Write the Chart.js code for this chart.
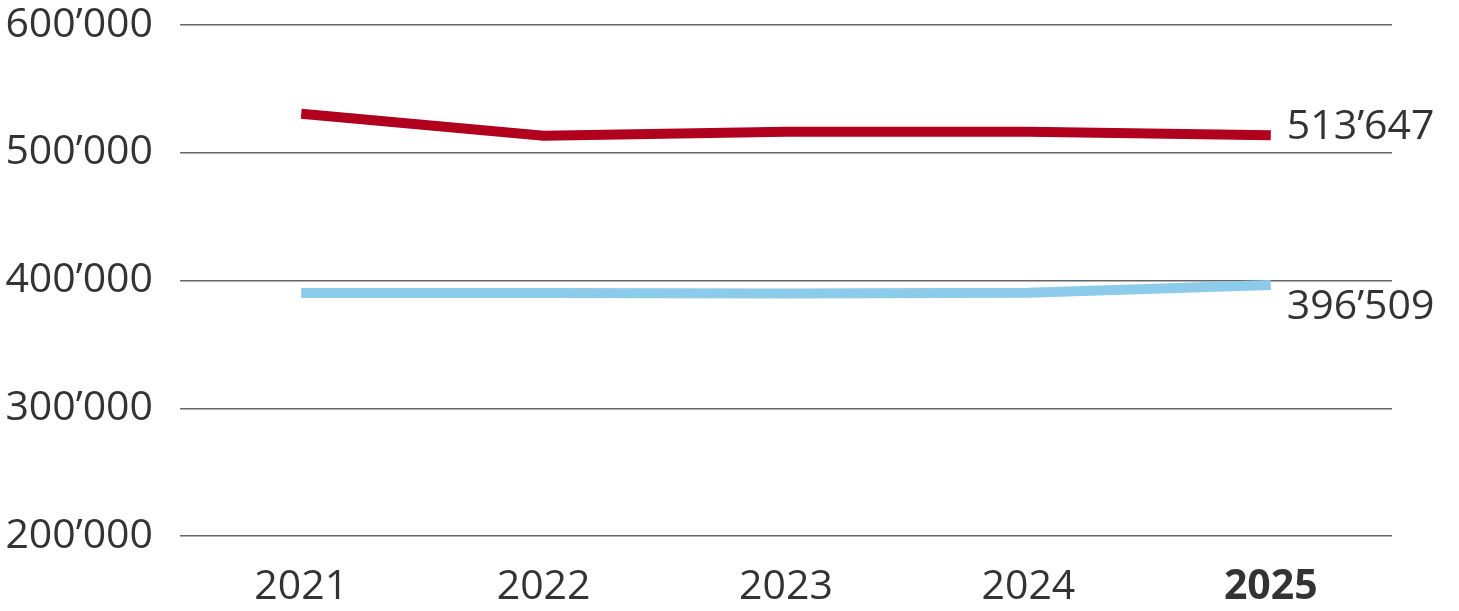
<!DOCTYPE html>
<html>
<head>
<meta charset="utf-8">
<script src="https://cdn.jsdelivr.net/npm/chart.js@4/dist/chart.umd.min.js"></script>
<style>
  html, body { margin: 0; padding: 0; background: #fff; }
  #wrap { width: 1459px; height: 611px; position: relative; }
</style>
</head>
<body>
<div id="wrap"><canvas id="lineChart"></canvas></div>
<script>
// --- data ---
const years = ['2021', '2022', '2023', '2024', '2025'];
const redSeries = [530500, 513400, 516400, 516400, 513647];
const blueSeries = [390200, 390300, 389900, 390500, 396509];
const yTicks = [200000, 300000, 400000, 500000, 600000];

const FONT = "'Open Sans', 'DejaVu Sans', sans-serif";

// 600000 -> 600’000
const formatNumber = (value) => {
    return String(Math.round(value)).replace(/\B(?=(\d{3})+(?!\d))/g, '\u2019');
};

// label at the end of each line
const endLabels = {
    id: 'endLabels',
    afterDatasetsDraw(chart) {
        const ctx = chart.ctx;
        ctx.save();
        ctx.font = '41px ' + FONT;
        ctx.fillStyle = '#333';
        ctx.textAlign = 'left';
        ctx.textBaseline = 'middle';
        chart.data.datasets.forEach((ds, i) => {
            const meta = chart.getDatasetMeta(i);
            const last = meta.data[meta.data.length - 1];
            const value = ds.data[ds.data.length - 1];
            ctx.fillText(formatNumber(value), last.x + 16, last.y + ds.labelOffset);
        });
        ctx.restore();
    }
};

new Chart(document.getElementById('lineChart'), {
    type: 'line',
    data: {
        labels: years,
        datasets: [
            {
                label: 'red',
                data: redSeries,
                borderColor: '#b0001e',
                borderWidth: 10,
                borderCapStyle: 'butt',
                pointRadius: 0,
                tension: 0,
                fill: false,
                labelOffset: -8
            },
            {
                label: 'blue',
                data: blueSeries,
                borderColor: '#8ccbea',
                borderWidth: 10,
                borderCapStyle: 'butt',
                pointRadius: 0,
                tension: 0,
                fill: false,
                labelOffset: 22
            }
        ]
    },
    options: {
        responsive: true,
        maintainAspectRatio: false,
        animation: false,
        layout: { padding: { top: 25, right: 67, left: 0, bottom: 0 } },
        plugins: {
            legend: { display: false },
            tooltip: { enabled: false }
        },
        scales: {
            x: {
                offset: true,
                grid: { display: false, drawTicks: false },
                border: { display: false },
                ticks: {
                    color: '#333',
                    padding: 27,
                    font: (c) => ({
                        family: FONT,
                        size: 41,
                        weight: c.index === years.length - 1 ? 'bold' : 'normal'
                    })
                },
                afterFit(scale) { scale.height = 75; }
            },
            y: {
                min: 200000,
                max: 600000,
                afterBuildTicks(scale) {
                    scale.ticks = yTicks.map(v => ({ value: v }));
                },
                grid: { color: '#666', lineWidth: 1.5, drawTicks: false },
                border: { display: false },
                ticks: {
                    color: '#333',
                    padding: 27,
                    font: { family: FONT, size: 41 },
                    callback: (v) => formatNumber(v)
                },
                afterFit(scale) {
                    scale.width = 180;
                    scale.paddingTop = 0;
                    scale.paddingBottom = 0;
                }
            }
        }
    },
    plugins: [endLabels]
});
</script>
</body>
</html>
